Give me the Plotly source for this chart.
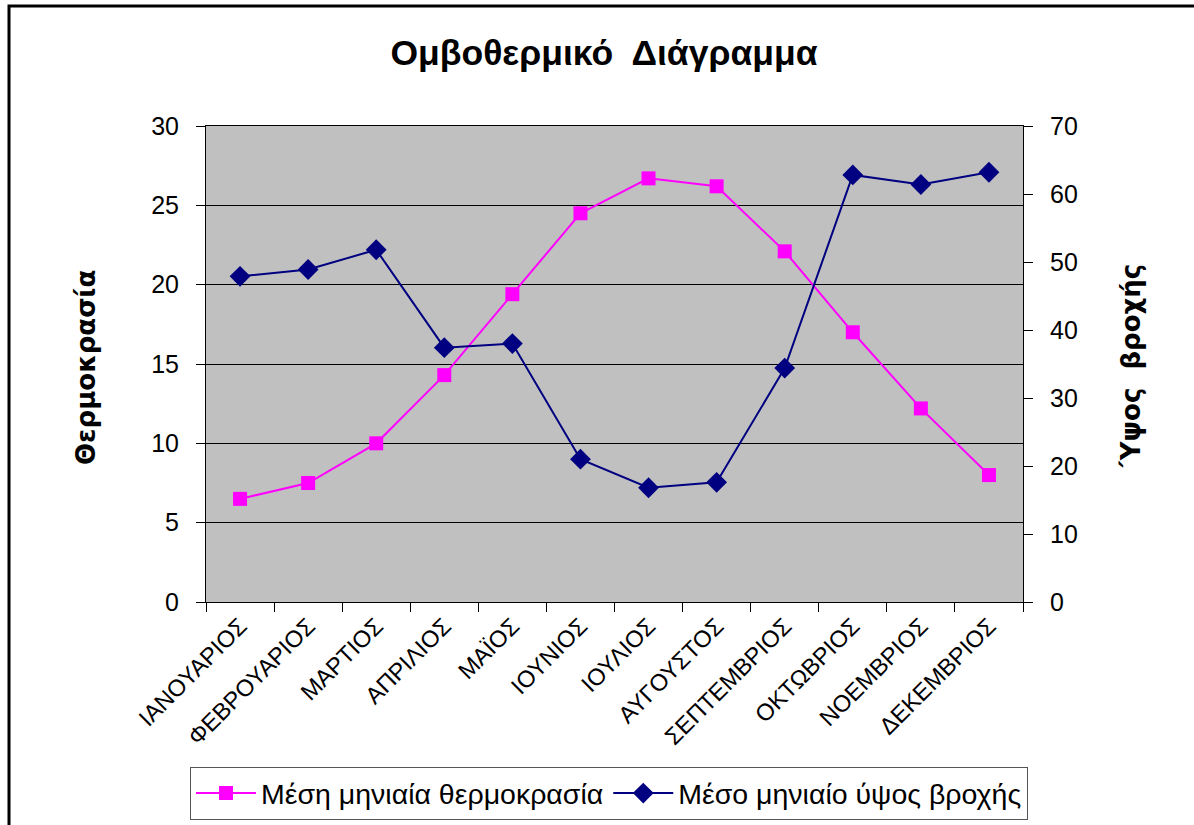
import plotly.graph_objects as go

months = ["ΙΑΝΟΥΑΡΙΟΣ", "ΦΕΒΡΟΥΑΡΙΟΣ", "ΜΑΡΤΙΟΣ", "ΑΠΡΙΛΙΟΣ", "ΜΑΪΟΣ", "ΙΟΥΝΙΟΣ",
          "ΙΟΥΛΙΟΣ", "ΑΥΓΟΥΣΤΟΣ", "ΣΕΠΤΕΜΒΡΙΟΣ", "ΟΚΤΩΒΡΙΟΣ", "ΝΟΕΜΒΡΙΟΣ", "ΔΕΚΕΜΒΡΙΟΣ"]
temperature = [6.5, 7.5, 10.0, 14.3, 19.4, 24.5, 26.7, 26.2, 22.1, 17.0, 12.2, 8.0]
rainfall = [47.9, 48.9, 51.8, 37.4, 38.0, 21.0, 16.8, 17.6, 34.4, 62.8, 61.4, 63.2]

temp_name = "Μέση μηνιαία θερμοκρασία"
rain_name = "Μέσο μηνιαίο ύψος βροχής"

W, H = 1194, 825
L, R, T, B = 206, 1023, 126, 602

def px(x):
    return (x - L) / (R - L)

def py(y):
    return (B - y) / (B - T)

fig = go.Figure()
fig.add_trace(go.Scatter(
    x=months, y=temperature, name=temp_name, mode="lines+markers",
    line=dict(color="#FF00FF", width=2),
    marker=dict(symbol="square", size=14, color="#FF00FF"),
    yaxis="y"))
fig.add_trace(go.Scatter(
    x=months, y=rainfall, name=rain_name, mode="lines+markers",
    line=dict(color="#000080", width=2),
    marker=dict(symbol="diamond", size=16, color="#000080"),
    yaxis="y2"))

FONT = "Liberation Sans, Arial, sans-serif"
tickfont = dict(family=FONT, size=25, color="black")

fig.update_layout(
    width=W, height=H,
    margin=dict(l=L, r=W - R, t=T, b=H - B, pad=0, autoexpand=False),
    paper_bgcolor="white",
    plot_bgcolor="#C0C0C0",
    title=dict(text="<b>Ομβοθερμικό  Διάγραμμα</b>",
               font=dict(family=FONT, size=35.5, color="black"),
               x=604 / W, xanchor="center", y=1 - 53 / H, yanchor="middle"),
    xaxis=dict(type="category", range=[-0.5, 11.5], tickson="boundaries",
               ticks="outside", ticklen=9, tickcolor="black", tickwidth=1,
               tickangle=-45,
               tickfont=dict(family=FONT, size=23.5, color="black"),
               showline=True, linecolor="black", linewidth=1, mirror=True,
               showgrid=False, zeroline=False, fixedrange=True),
    yaxis=dict(range=[0, 30], dtick=5, ticks="outside", ticklen=9, tickcolor="black",
               tickfont=tickfont, ticklabelstandoff=12,
               showgrid=True, gridcolor="black", gridwidth=1,
               showline=True, linecolor="black", linewidth=1, zeroline=False),
    yaxis2=dict(range=[0, 70], dtick=10, overlaying="y", side="right",
                ticks="outside", ticklen=9, tickcolor="black",
                tickfont=tickfont, ticklabelstandoff=12, showgrid=False,
                showline=True, linecolor="black", linewidth=1, zeroline=False),
    legend=dict(orientation="h", x=px(190), xanchor="left", y=py(767), yanchor="top",
                bordercolor="#555555", borderwidth=1, bgcolor="white",
                font=dict(family=FONT, size=28.5, color="black"),
                itemwidth=60, tracegroupgap=0),
    showlegend=True,
    annotations=[
        dict(text="<b>Θερμοκρασία</b>", xref="paper", yref="paper",
             x=px(86), y=py(368), xanchor="center", yanchor="middle",
             textangle=-90, showarrow=False,
             font=dict(family="DejaVu Sans, Verdana, sans-serif", size=26, color="black")),
        dict(text="<b>Ύψος  βροχής</b>", xref="paper", yref="paper",
             x=px(1131), y=py(366), xanchor="center", yanchor="middle",
             textangle=-90, showarrow=False,
             font=dict(family="DejaVu Sans, Verdana, sans-serif", size=26, color="black")),
    ],
    shapes=[
        dict(type="rect", xref="paper", yref="paper",
             x0=px(9), x1=px(1205), y0=py(835), y1=py(6),
             line=dict(color="black", width=3), fillcolor="rgba(0,0,0,0)", layer="below"),
    ],
)

fig.write_html("out.html", config={"displayModeBar": False},
               post_script="document.body.style.margin='0px';")
